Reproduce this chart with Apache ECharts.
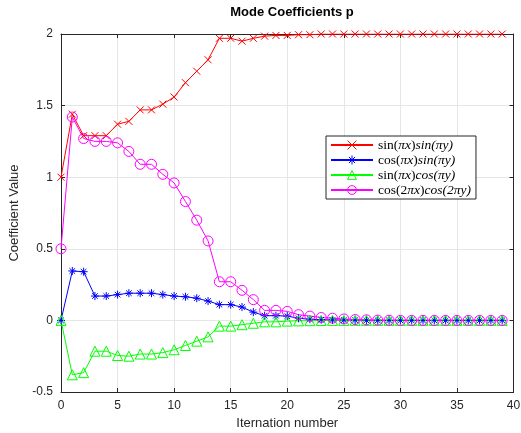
<!DOCTYPE html>
<html><head><meta charset="utf-8">
<script src="https://cdn.jsdelivr.net/npm/echarts@6/dist/echarts.min.js"></script>
<style>html,body{margin:0;padding:0;background:#fff}#c{width:521px;height:433px}</style>
</head><body><div id="c"></div>
<script>
const iterations = Array.from({length: 40}, (_, i) => i);
const sinSin = [1.00,1.44,1.29,1.29,1.29,1.37,1.39,1.47,1.47,1.51,1.56,1.66,1.74,1.82,1.97,1.97,1.95,1.97,1.985,1.99,1.99,1.995,1.995,2.0,2.0,2.0,2.0,2.0,2.0,2.0,2.0,2.0,2.0,2.0,2.0,2.0,2.0,2.0,2.0,2.0];
const cosSin = [0.00,0.345,0.34,0.17,0.17,0.18,0.19,0.19,0.19,0.18,0.17,0.165,0.155,0.135,0.11,0.11,0.093,0.058,0.033,0.033,0.03,0.015,0.008,0.005,0.003,0.002,0.001,0,0,0,0,0,0,0,0,0,0,0,0,0];
const sinCos = [0.00,-0.38,-0.365,-0.215,-0.215,-0.245,-0.25,-0.235,-0.235,-0.225,-0.205,-0.175,-0.145,-0.115,-0.04,-0.04,-0.03,-0.02,-0.01,-0.01,-0.005,-0.003,-0.002,-0.001,0,0,0,0,0,0,0,0,0,0,0,0,0,0,0,0];
const cos2Cos2 = [0.50,1.42,1.27,1.25,1.25,1.24,1.18,1.09,1.09,1.02,0.96,0.83,0.70,0.555,0.27,0.27,0.21,0.145,0.07,0.07,0.063,0.04,0.03,0.02,0.015,0.01,0.006,0.004,0.002,0.001,0,0,0,0,0,0,0,0,0,0];
const seriesNames = ['sin(πx)sin(πy)','cos(πx)sin(πy)','sin(πx)cos(πy)','cos(2πx)cos(2πy)'];
const legendRich = {
  'sin(πx)sin(πy)': '{r|sin(}{i|πx}{r|)}{i|sin(πy)}',
  'cos(πx)sin(πy)': '{r|cos(}{i|πx}{r|)}{i|sin(πy)}',
  'sin(πx)cos(πy)': '{r|sin(}{i|πx}{r|)}{i|cos(πy)}',
  'cos(2πx)cos(2πy)': '{r|cos(2}{i|πx}{r|)}{i|cos(2πy)}'
};
const xTicks = {min: 0, max: 40, interval: 5};
const yTicks = {min: -0.5, max: 2, interval: 0.5};

const crossPath = 'path://M0,0L10,10M10,0L0,10';
const starPath = 'path://M5,0L5,10M0,5L10,5M1.5,1.5L8.5,8.5M8.5,1.5L1.5,8.5';

function mk(name, data, color, symbol, size){
  return {
    name, type: 'line', data: data.map((v,i)=>[iterations[i], v]),
    symbol, symbolSize: size, showAllSymbol: true,
    lineStyle: {color, width: 1},
    itemStyle: {color: 'rgba(0,0,0,0)', borderColor: color, borderWidth: 1},
    emphasis: {disabled: true}, animation: false
  };
}
const axisFont = {fontFamily: 'Liberation Sans, Arial, sans-serif', fontSize: 12, color: '#262626'};
const tickStyle = {show: true, inside: true, length: 4, lineStyle:{color:'#262626'}};
const chart = echarts.init(document.getElementById('c'), null, {renderer: 'canvas'});
chart.setOption({
  backgroundColor: '#fff',
  animation: false,
  title: {text: 'Mode Coefficients p', left: 287, top: 1, textAlign: 'center',
    textStyle: {fontFamily: 'Liberation Sans, Arial, sans-serif', fontSize: 13, fontWeight: 'bold', color: '#000'}},
  grid: {left: 61, right: 7.5, top: 34, bottom: 41, containLabel: false, outerBoundsMode: 'none'},
  legend: {
    data: seriesNames, orient: 'vertical', left: 326, top: 136,
    backgroundColor: '#fff', borderColor: '#262626', borderWidth: 1,
    padding: [2, 5, 2, 4], itemGap: 1, itemWidth: 42, itemHeight: 11,
    itemStyle: {color: 'rgba(0,0,0,0)', borderWidth: 1},
    formatter: n => legendRich[n],
    textStyle: {fontFamily: 'Liberation Serif, DejaVu Serif, serif', fontSize: 13, color: '#000',
      rich: {r: {fontFamily: 'Liberation Serif, serif', fontSize: 13.5, color:'#000'},
             i: {fontFamily: 'Liberation Serif, serif', fontSize: 13.5, fontStyle: 'italic', color:'#000'}}}
  },
  xAxis: [{
    type: 'value', ...xTicks, name: 'Iternation number', nameLocation: 'middle', nameGap: 24,
    nameTextStyle: {fontFamily: 'Liberation Sans, Arial, sans-serif', fontSize: 13, color: '#262626'},
    axisLine: {onZero: false, lineStyle: {color: '#262626'}}, axisTick: tickStyle,
    axisLabel: {...axisFont, margin: 8},
    splitLine: {show: true, lineStyle: {color: '#e6e6e6'}}
  },{
    type: 'value', ...xTicks, position: 'top',
    axisLine: {show: true, onZero: false, lineStyle: {color: '#262626'}}, axisTick: tickStyle,
    axisLabel: {show: false}, splitLine: {show: false}
  }],
  yAxis: [{
    type: 'value', ...yTicks, name: 'Coefficient Value', nameLocation: 'middle', nameGap: 40,
    nameTextStyle: {fontFamily: 'Liberation Sans, Arial, sans-serif', fontSize: 13, color: '#262626'},
    axisLine: {show: true, onZero: false, lineStyle: {color: '#262626'}}, axisTick: tickStyle,
    axisLabel: {...axisFont, margin: 8},
    splitLine: {show: true, lineStyle: {color: '#e6e6e6'}}
  },{
    type: 'value', ...yTicks, position: 'right',
    axisLine: {show: true, onZero: false, lineStyle: {color: '#262626'}}, axisTick: tickStyle,
    axisLabel: {show: false}, splitLine: {show: false}
  }],
  series: [
    mk(seriesNames[0], sinSin, '#ff0000', crossPath, 7),
    mk(seriesNames[1], cosSin, '#0000ff', starPath, 8),
    mk(seriesNames[2], sinCos, '#00ff00', 'triangle', 10),
    mk(seriesNames[3], cos2Cos2, '#ff00ff', 'circle', 10)
  ]
});
</script></body></html>
